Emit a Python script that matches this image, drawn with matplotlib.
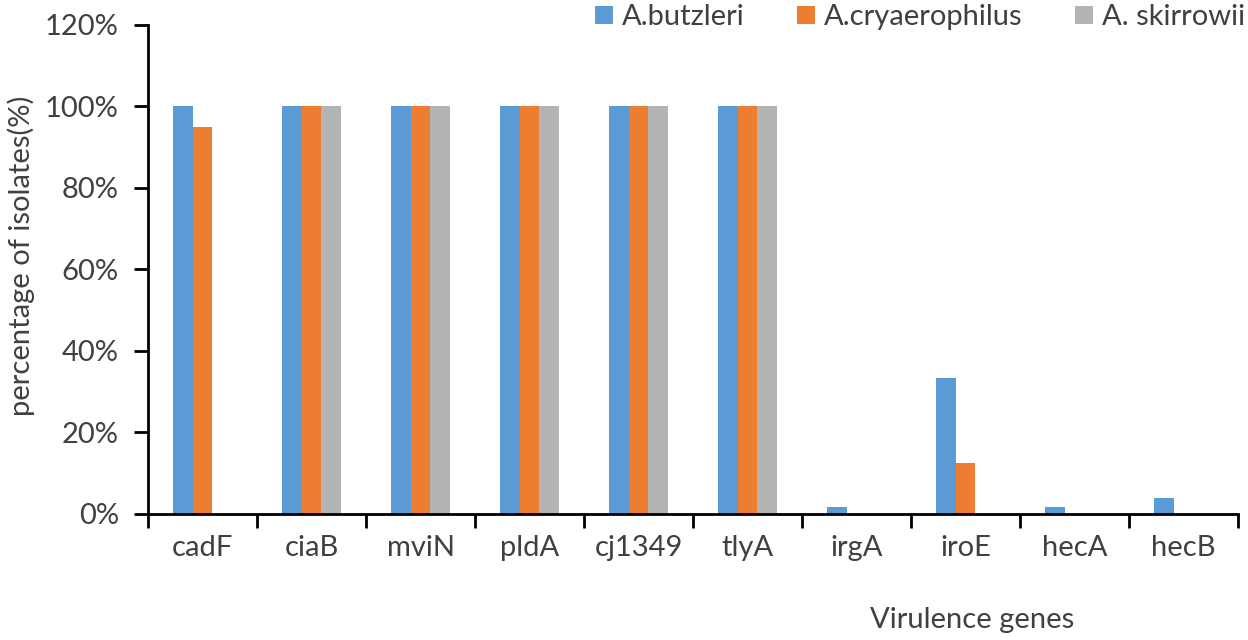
import numpy as np
import matplotlib
matplotlib.use("Agg")
from matplotlib import pyplot as plt
from matplotlib.ticker import FuncFormatter

# Data
genes = ["cadF", "ciaB", "mviN", "pldA", "cj1349", "tlyA", "irgA", "iroE", "hecA", "hecB"]
butzleri = [100, 100, 100, 100, 100, 100, 1.8, 33.3, 1.8, 3.8]
cryaerophilus = [95, 100, 100, 100, 100, 100, 0, 12.5, 0, 0]
skirrowii = [0, 100, 100, 100, 100, 100, 0, 0, 0, 0]
series_names = ["A.butzleri", "A.cryaerophilus", "A. skirrowii"]
colors = ["#5b9bd5", "#ed7d31", "#b4b4b4"]

plt.rcParams['font.family'] = ['Lato', 'DejaVu Sans']
txt = "#404040"

fig = plt.figure(figsize=(12.48, 6.4), dpi=100)
ax = fig.add_axes([0.1186, 0.197, 0.8734, 0.764])

x = np.arange(len(genes))
w = 0.18
for k, (vals, name, c) in enumerate(zip([butzleri, cryaerophilus, skirrowii], series_names, colors)):
    ax.bar(x + (k - 1) * w, vals, w, color=c, label=name)

ax.set_xlim(-0.5, len(genes) - 0.5)
ax.set_ylim(0, 120)
ax.set_yticks(np.arange(0, 121, 20))
ax.yaxis.set_major_formatter(FuncFormatter(lambda v, p: "%d%%" % v))

ax.set_xticks(x)
ax.set_xticklabels(genes)
ax.set_xticks(np.arange(-0.5, len(genes), 1), minor=True)
ax.tick_params(axis='x', which='major', length=0, pad=15, labelsize=21, labelcolor=txt)
ax.tick_params(axis='x', which='minor', length=10, width=2, direction='out')
ax.tick_params(axis='y', length=10, width=2, direction='out', labelsize=21, labelcolor=txt, pad=11)

for s in ["top", "right"]:
    ax.spines[s].set_visible(False)
for s in ["left", "bottom"]:
    ax.spines[s].set_linewidth(2)

fig.text(0.017, 0.6, "percentage of isolates(%)", rotation=90, ha="center", va="center",
         fontsize=21, color=txt)
fig.text(0.779, 0.031, "Virulence genes", ha="center", va="center", fontsize=21, color=txt)

ax.legend(loc="center right", bbox_to_anchor=(1.0064, 1.016), ncol=3, frameon=False,
          fontsize=21, labelcolor=txt, handlelength=0.62, handleheight=0.55,
          handletextpad=0.3, columnspacing=1.8, borderpad=0, borderaxespad=0)

fig.savefig("out.png", dpi=100)
